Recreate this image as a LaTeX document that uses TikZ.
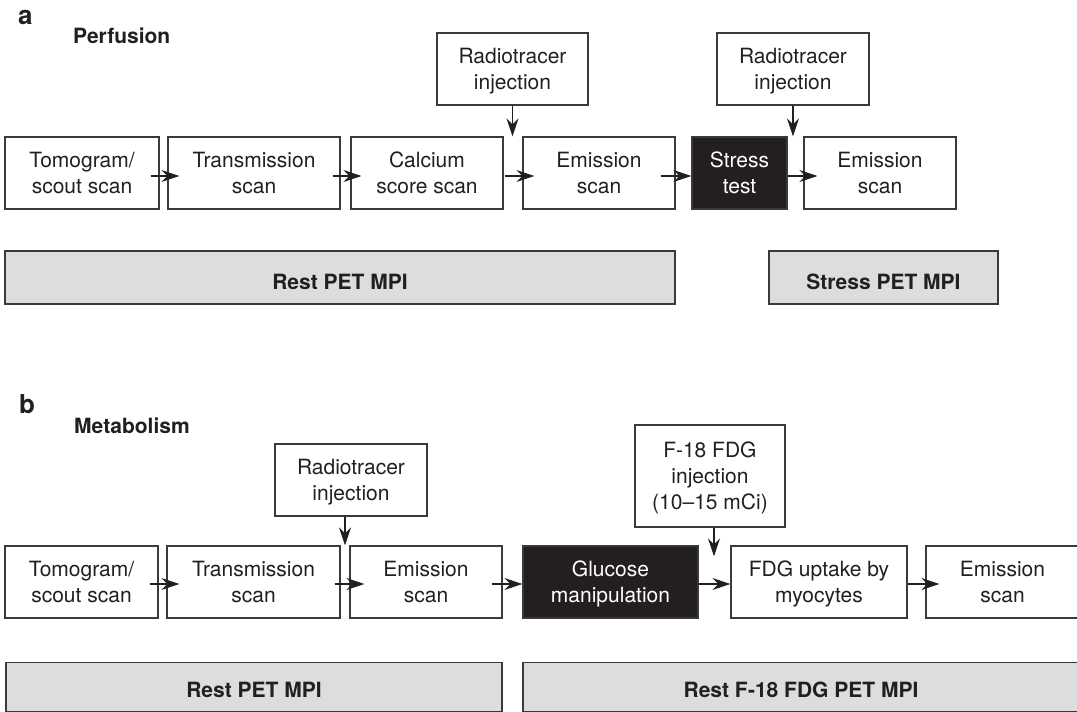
\documentclass[tikz,border=0pt]{standalone}
\usepackage{fontspec}
\setmainfont{TeX Gyre Heros}
\usetikzlibrary{arrows.meta}
\definecolor{linec}{HTML}{3A3A3A}
\definecolor{txt}{HTML}{231F20}
\definecolor{darkfill}{HTML}{231F20}
\definecolor{barc}{HTML}{DCDDDF}
\begin{document}
\begin{tikzpicture}[x=1pt,y=-1pt,
  box/.style={draw=linec, line width=1.2pt, fill=white, text=txt, align=center,
    inner sep=0pt, text depth=0pt, font=\fontsize{21}{26}\selectfont},
  dark/.style={box, fill=darkfill, text=white},
  bar/.style={draw=linec, line width=1.2pt, fill=barc, text=txt, inner sep=0pt,
    text depth=0pt, font=\fontsize{21}{26}\selectfont\bfseries},
  arr/.style={draw=txt, line width=1.1pt, -{Stealth[length=18pt,width=12pt,inset=6pt]}},
  panel/.style={font=\fontsize{26}{30}\selectfont\bfseries, text=txt, inner sep=0pt, anchor=base west},
  ttl/.style={font=\fontsize{21}{26}\selectfont\bfseries, text=txt, inner sep=0pt, anchor=base west}]
\useasboundingbox (0,0) rectangle (1077,712);
\clip (0,0) rectangle (1077,712);
\fill[white] (0,0) rectangle (1077,712);

% ---------- panel a ----------
\node[panel] (la) at (18,24) {a};
\node[ttl] (perf) at (73,43) {Perfusion};

\node[box, minimum width=154pt, minimum height=72pt] (a1) at (82,173) {Tomogram/\\scout scan};
\node[box, minimum width=172pt, minimum height=72pt] (a2) at (254,173) {Transmission\\scan};
\node[box, minimum width=152pt, minimum height=72pt] (a3) at (427,173) {Calcium\\score scan};
\node[box, minimum width=152pt, minimum height=72pt] (a4) at (599,173) {Emission\\scan};
\node[dark, minimum width=95pt, minimum height=72pt] (a5) at (739.5,173) {Stress\\test};
\node[box, minimum width=152pt, minimum height=72pt] (a6) at (880,173) {Emission\\scan};

\node[box, minimum width=151pt, minimum height=72pt] (r1) at (512.5,69) {Radiotracer\\injection};
\node[box, minimum width=152pt, minimum height=72pt] (r2) at (793,69) {Radiotracer\\injection};

\node[bar, minimum width=670pt, minimum height=53pt, text height=23pt] (ra) at (340,277.5) {Rest PET MPI};
\node[bar, minimum width=229pt, minimum height=53pt, text height=23pt] (sa) at (883.5,277.5) {Stress PET MPI};

\draw[arr] ([xshift=-9pt,yshift=-3pt]a1.east) -- ([xshift=12pt,yshift=-3pt]a2.west);
\draw[arr] ([xshift=-8pt,yshift=-3pt]a2.east) -- ([xshift=11pt,yshift=-3pt]a3.west);
\draw[arr] ([xshift=1pt,yshift=-3pt]a3.east) -- ([xshift=12pt,yshift=-3pt]a4.west);
\draw[arr] ([xshift=-15pt,yshift=-3pt]a4.east) -- ([yshift=-3pt]a5.west);
\draw[arr] ([yshift=-3pt]a5.east) -- ([xshift=14pt,yshift=-3pt]a6.west);
\draw[arr] (r1.south) -- (r1.south |- a4.north);
\draw[arr] (r2.south) -- (r2.south |- a6.north);

% ---------- panel b ----------
\node[panel] (lb) at (19,413) {b};
\node[ttl] (meta) at (74,433) {Metabolism};

\node[box, minimum width=153pt, minimum height=72pt] (b1) at (81.5,582) {Tomogram/\\scout scan};
\node[box, minimum width=173pt, minimum height=72pt] (b2) at (253.5,582) {Transmission\\scan};
\node[box, minimum width=152pt, minimum height=72pt] (b3) at (426,582) {Emission\\scan};
\node[dark, minimum width=175pt, minimum height=72pt] (b4) at (610.5,582) {Glucose\\manipulation};
\node[box, minimum width=176pt, minimum height=72pt] (b5) at (819,582) {FDG uptake by\\myocytes};
\node[box, minimum width=153pt, minimum height=72pt] (b6) at (1002.5,582) {Emission\\scan};

\node[box, minimum width=152pt, minimum height=72pt] (rb) at (351,480) {Radiotracer\\injection};
\node[box, minimum width=150pt, minimum height=102pt] (fdg) at (710,476) {F-18 FDG\\injection\\(10–15 mCi)};

\node[bar, minimum width=496pt, minimum height=49pt, text height=21pt] (rbb) at (254,687) {Rest PET MPI};
\node[bar, minimum width=556pt, minimum height=49pt, text height=21pt] (fbb) at (801,687) {Rest F-18 FDG PET MPI};

\draw[arr] ([xshift=-9pt,yshift=-2pt]b1.east) -- ([xshift=13pt,yshift=-2pt]b2.west);
\draw[arr] ([xshift=-6pt,yshift=-2pt]b2.east) -- ([xshift=15pt,yshift=-2pt]b3.west);
\draw[arr] ([xshift=-11pt,yshift=-2pt]b3.east) -- ([yshift=-2pt]b4.west);
\draw[arr] ([yshift=-2pt]b4.east) -- ([yshift=-2pt]b5.west);
\draw[arr] ([yshift=-2pt]b5.east) -- ([xshift=14pt,yshift=-2pt]b6.west);
\draw[arr] ([xshift=-6pt]rb.south) -- ([xshift=-6pt]rb.south |- b3.north);
\draw[arr] ([xshift=4pt]fdg.south) -- ([xshift=4pt,yshift=-11pt]fdg.south |- b5.north);
\end{tikzpicture}
\end{document}
